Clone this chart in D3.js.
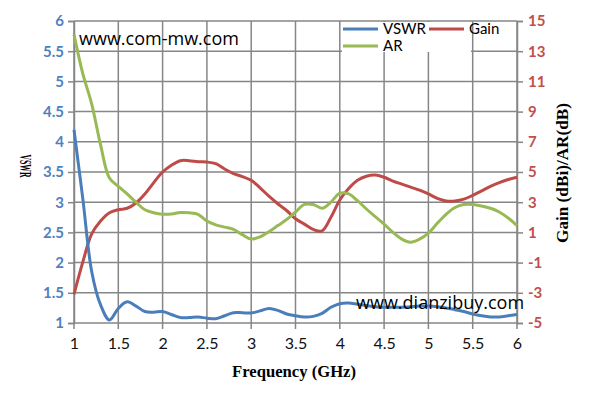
<!DOCTYPE html>
<html>
<head>
<meta charset="utf-8">
<script src="https://cdn.jsdelivr.net/npm/d3@7"></script>
<style>
  html, body { margin: 0; padding: 0; background: #fff; }
  svg { display: block; }
</style>
</head>
<body>
<svg id="chart" width="589" height="404"></svg>
<script>
const freq = [1.0,1.1,1.2,1.3,1.4,1.5,1.6,1.7,1.8,1.9,2.0,2.1,2.2,2.3,2.4,2.5,2.6,2.7,2.8,2.9,3.0,
  3.1,3.2,3.3,3.4,3.5,3.6,3.7,3.8,3.9,4.0,4.1,4.2,4.3,4.4,4.5,4.6,4.7,4.8,4.9,5.0,
  5.1,5.2,5.3,5.4,5.5,5.6,5.7,5.8,5.9,6.0];
const vswr = [4.2,3.05,1.85,1.3,1.05,1.24,1.35,1.28,1.19,1.18,1.19,1.14,1.09,1.09,1.10,1.08,1.07,1.12,1.17,1.17,1.165,
  1.2,1.24,1.21,1.15,1.12,1.10,1.11,1.16,1.26,1.32,1.33,1.31,1.29,1.27,1.26,1.26,1.26,1.27,1.28,1.28,
  1.27,1.25,1.22,1.19,1.15,1.12,1.10,1.10,1.12,1.14];
const gain = [-3.1,-0.95,0.9,1.75,2.3,2.5,2.6,2.95,3.55,4.3,5.0,5.45,5.75,5.75,5.68,5.66,5.55,5.2,4.9,4.7,4.45,
  3.95,3.4,2.9,2.45,1.9,1.55,1.2,1.1,2.0,3.15,3.9,4.45,4.72,4.8,4.65,4.4,4.2,4.0,3.8,3.55,
  3.25,3.08,3.08,3.2,3.45,3.75,4.05,4.3,4.5,4.65];
const ar = [14.1,11.5,9.5,6.8,4.6,4.05,3.55,3.0,2.5,2.3,2.2,2.22,2.32,2.3,2.2,1.75,1.5,1.35,1.2,0.85,0.56,
  0.7,1.05,1.45,1.85,2.35,2.85,2.85,2.6,3.0,3.6,3.55,3.1,2.55,2.05,1.55,1.0,0.55,0.35,0.55,0.95,
  1.6,2.2,2.65,2.85,2.85,2.75,2.6,2.35,1.95,1.45];
const xTicks = [1,1.5,2,2.5,3,3.5,4,4.5,5,5.5,6];
const xTickLabels = ["1","1.5","2","2.5","3","3.5","4","4.5","5","5.5","6"];
const leftTicks = [1,1.5,2,2.5,3,3.5,4,4.5,5,5.5,6];
const leftTickLabels = ["1","1.5","2","2.5","3","3.5","4","4.5","5","5.5","6"];
const rightTicks = [-5,-3,-1,1,3,5,7,9,11,13,15];
const rightTickLabels = ["-5","-3","-1","1","3","5","7","9","11","13","15"];
const seriesNames = ["VSWR","Gain","AR"];

const colors = {VSWR:"#4A7EBB", Gain:"#BE4B48", AR:"#98B954"};
const svg = d3.select("#chart");
const L = 74, R = 517, T = 21, B = 323;

const x = d3.scaleLinear().domain([1,6]).range([L,R]);
const yL = d3.scaleLinear().domain([1,6]).range([B,T]);
const yR = d3.scaleLinear().domain([-5,15]).range([B,T]);

const grid = "#868686";
const g = svg.append("g");
g.selectAll("line.h").data(leftTicks).join("line")
  .attr("x1", L).attr("x2", R).attr("y1", d=>yL(d)).attr("y2", d=>yL(d))
  .attr("stroke", grid).attr("stroke-width", 1.5);
g.selectAll("line.v").data(xTicks).join("line")
  .attr("x1", d=>x(d)).attr("x2", d=>x(d)).attr("y1", T).attr("y2", B+6)
  .attr("stroke", grid).attr("stroke-width", 1.5);

const axL = d3.axisLeft(yL).tickValues(leftTicks).tickFormat((d,i)=>leftTickLabels[i]).tickSize(6).tickPadding(4);
const axR = d3.axisRight(yR).tickValues(rightTicks).tickFormat((d,i)=>rightTickLabels[i]).tickSize(6).tickPadding(5);
const axB = d3.axisBottom(x).tickValues(xTicks).tickFormat((d,i)=>xTickLabels[i]).tickSize(0).tickPadding(15);

function styleAxis(sel, color, weight, size) {
  sel.select(".domain").attr("stroke", grid).attr("stroke-width", 1.5);
  sel.selectAll(".tick line").attr("stroke", grid).attr("stroke-width", 1.5);
  sel.selectAll(".tick text").attr("fill", color).style("font-family", "Lato, 'Open Sans', sans-serif")
    .style("font-weight", weight).style("font-size", size + "px");
}
const gL = svg.append("g").attr("transform", `translate(${L},0)`).call(axL);
styleAxis(gL, "#4F81BD", "bold", 15);
const gR = svg.append("g").attr("transform", `translate(${R},0)`).call(axR);
styleAxis(gR, "#C0504D", "bold", 15);
const gB = svg.append("g").attr("transform", `translate(0,${B})`).call(axB);
styleAxis(gB, "#111", "normal", 16);
gB.select(".domain").remove();

const lineL = d3.line().x((d,i)=>x(freq[i])).y(d=>yL(d)).curve(d3.curveCatmullRom.alpha(0.5));
const lineR = d3.line().x((d,i)=>x(freq[i])).y(d=>yR(d)).curve(d3.curveCatmullRom.alpha(0.5));
svg.append("path").datum(gain).attr("d", lineR).attr("fill","none").attr("stroke", colors.Gain).attr("stroke-width", 3).attr("stroke-linejoin","round");
svg.append("path").datum(ar).attr("d", lineR).attr("fill","none").attr("stroke", colors.AR).attr("stroke-width", 3).attr("stroke-linejoin","round");
svg.append("path").datum(vswr).attr("d", lineL).attr("fill","none").attr("stroke", colors.VSWR).attr("stroke-width", 3).attr("stroke-linejoin","round");

svg.append("text").attr("x", 79).attr("y", 45).text("www.com-mw.com")
  .style("font-family","'Open Sans', sans-serif").style("font-size","18px").attr("fill","#000");
svg.append("text").attr("x", 356).attr("y", 309).text("www.dianzibuy.com")
  .style("font-family","'Open Sans', sans-serif").style("font-size","18px").attr("fill","#000");

const lg = svg.append("g");
lg.append("rect").attr("x", 342).attr("y", 22).attr("width", 129).attr("height", 30).attr("fill", "#fff");
const legendItems = [
  {name: seriesNames[0], lx: 343, ly: 29},
  {name: seriesNames[1], lx: 429, ly: 29},
  {name: seriesNames[2], lx: 343, ly: 46}
];
legendItems.forEach(it => {
  lg.append("line").attr("x1", it.lx).attr("x2", it.lx+35).attr("y1", it.ly).attr("y2", it.ly)
    .attr("stroke", colors[it.name]).attr("stroke-width", 3);
  lg.append("text").attr("x", it.lx+40).attr("y", it.ly+5).text(it.name)
    .style("font-family","Lato, sans-serif").style("font-size","15px").attr("fill","#000");
});

const serif = "'Liberation Serif', 'DejaVu Serif', serif";
svg.append("text").attr("x", 294).attr("y", 377).attr("text-anchor","middle")
  .attr("textLength", 124).attr("lengthAdjust","spacingAndGlyphs")
  .text("Frequency (GHz)").style("font-family", serif).style("font-weight","bold").style("font-size","17px");
svg.append("text").attr("transform","translate(20,166) rotate(90)").attr("text-anchor","middle")
  .attr("textLength", 23).attr("lengthAdjust","spacingAndGlyphs")
  .text("VSWR").style("font-family", serif).style("font-weight","bold").style("font-size","17px");
svg.append("text").attr("transform","translate(568,173) rotate(-90)").attr("text-anchor","middle")
  .attr("textLength", 140).attr("lengthAdjust","spacingAndGlyphs")
  .text("Gain (dBi)/AR(dB)").style("font-family", serif).style("font-weight","bold").style("font-size","17px");
</script>
</body>
</html>
